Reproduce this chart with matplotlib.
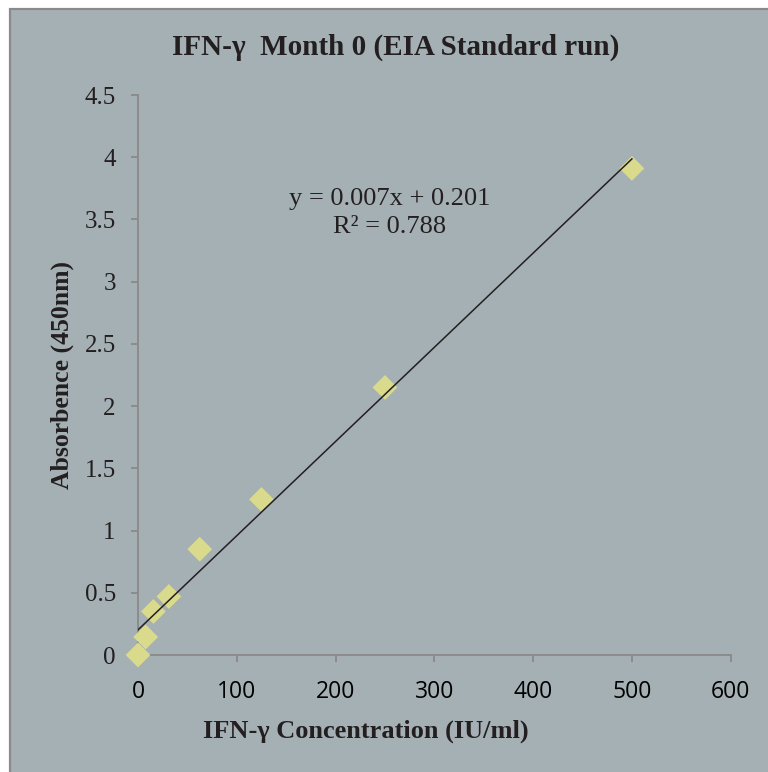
import numpy as np
import matplotlib
matplotlib.use("Agg")
import matplotlib.pyplot as plt
from matplotlib.patches import Rectangle

# standard curve readings
conc = [0, 7.8, 15.6, 31.25, 62.5, 125, 250, 500]
absorb = [0.0, 0.145, 0.35, 0.47, 0.85, 1.25, 2.15, 3.91]
xticks = [0, 100, 200, 300, 400, 500, 600]
yticks = [0, 0.5, 1, 1.5, 2, 2.5, 3, 3.5, 4, 4.5]
ytick_labels = ["0", "0.5", "1", "1.5", "2", "2.5", "3", "3.5", "4", "4.5"]

title = "IFN-\u03b3  Month 0 (EIA Standard run)"
xlabel = "IFN-\u03b3 Concentration (IU/ml)"
ylabel = "Absorbence (450nm)"
eq_text = "y = 0.007x + 0.201\nR\u00b2 = 0.788"

BG = "#A5B0B4"
INK = "#231F20"
GRID = "#8C8C8C"
SERIF = "Liberation Serif"
SANS = "Open Sans"

W, H = 768, 772
fig = plt.figure(figsize=(W / 100, H / 100), dpi=100, facecolor="white")

# chart area box (white margin top/left, grey border)
fig.patches.append(Rectangle((10 / W, -0.01), 1.0, (H - 9) / H + 0.01,
                             transform=fig.transFigure, facecolor=BG,
                             edgecolor="#8A8A8A", linewidth=1.6, zorder=-10))

ax = fig.add_axes([138 / W, (H - 655) / H, (730.7 - 138) / W, (655 - 95) / H])
ax.set_facecolor("none")
ax.set_xlim(0, 600)
ax.set_ylim(0, 4.5)

# linear trendline
slope, icpt = np.polyfit(conc, absorb, 1)
xs = np.array([0, max(conc)])
ax.scatter(conc, absorb, marker="D", s=160, color="#DADA8C", edgecolors="none",
           zorder=3, clip_on=False)
ax.plot(xs, slope * xs + icpt, color=INK, linewidth=1.1, zorder=4)

for s in ["top", "right"]:
    ax.spines[s].set_visible(False)
for s in ["left", "bottom"]:
    ax.spines[s].set_color(GRID)
    ax.spines[s].set_linewidth(1.4)

ax.set_xticks(xticks)
ax.set_yticks(yticks)
ax.set_yticklabels(ytick_labels)
ax.tick_params(axis="both", direction="out", length=5, width=1.4, color=GRID)
ax.tick_params(axis="x", pad=13, labelsize=16.5, labelcolor="black")
ax.tick_params(axis="y", pad=11, labelsize=18, labelcolor=INK)
for lab in ax.get_xticklabels():
    lab.set_fontfamily(SANS)
for lab in ax.get_yticklabels():
    lab.set_fontfamily(SERIF)

fig.text(396 / W, 1 - 47 / H, title, ha="center", va="center", fontsize=21,
         fontweight="bold", family=[SERIF, "DejaVu Serif"], color=INK)
fig.text(366 / W, 1 - 731 / H, xlabel, ha="center", va="center", fontsize=19,
         fontweight="bold", family=[SERIF, "DejaVu Serif"], color=INK)
fig.text(62 / W, 1 - 375 / H, ylabel, ha="center", va="center", rotation=90,
         fontsize=18.5, fontweight="bold", family=[SERIF, "DejaVu Serif"], color=INK)
fig.text(390 / W, 1 - 213 / H, eq_text, ha="center", va="center", fontsize=19,
         family=[SERIF, "DejaVu Serif"], color=INK, linespacing=1.35)

fig.savefig("out.png", dpi=100, facecolor="white")
